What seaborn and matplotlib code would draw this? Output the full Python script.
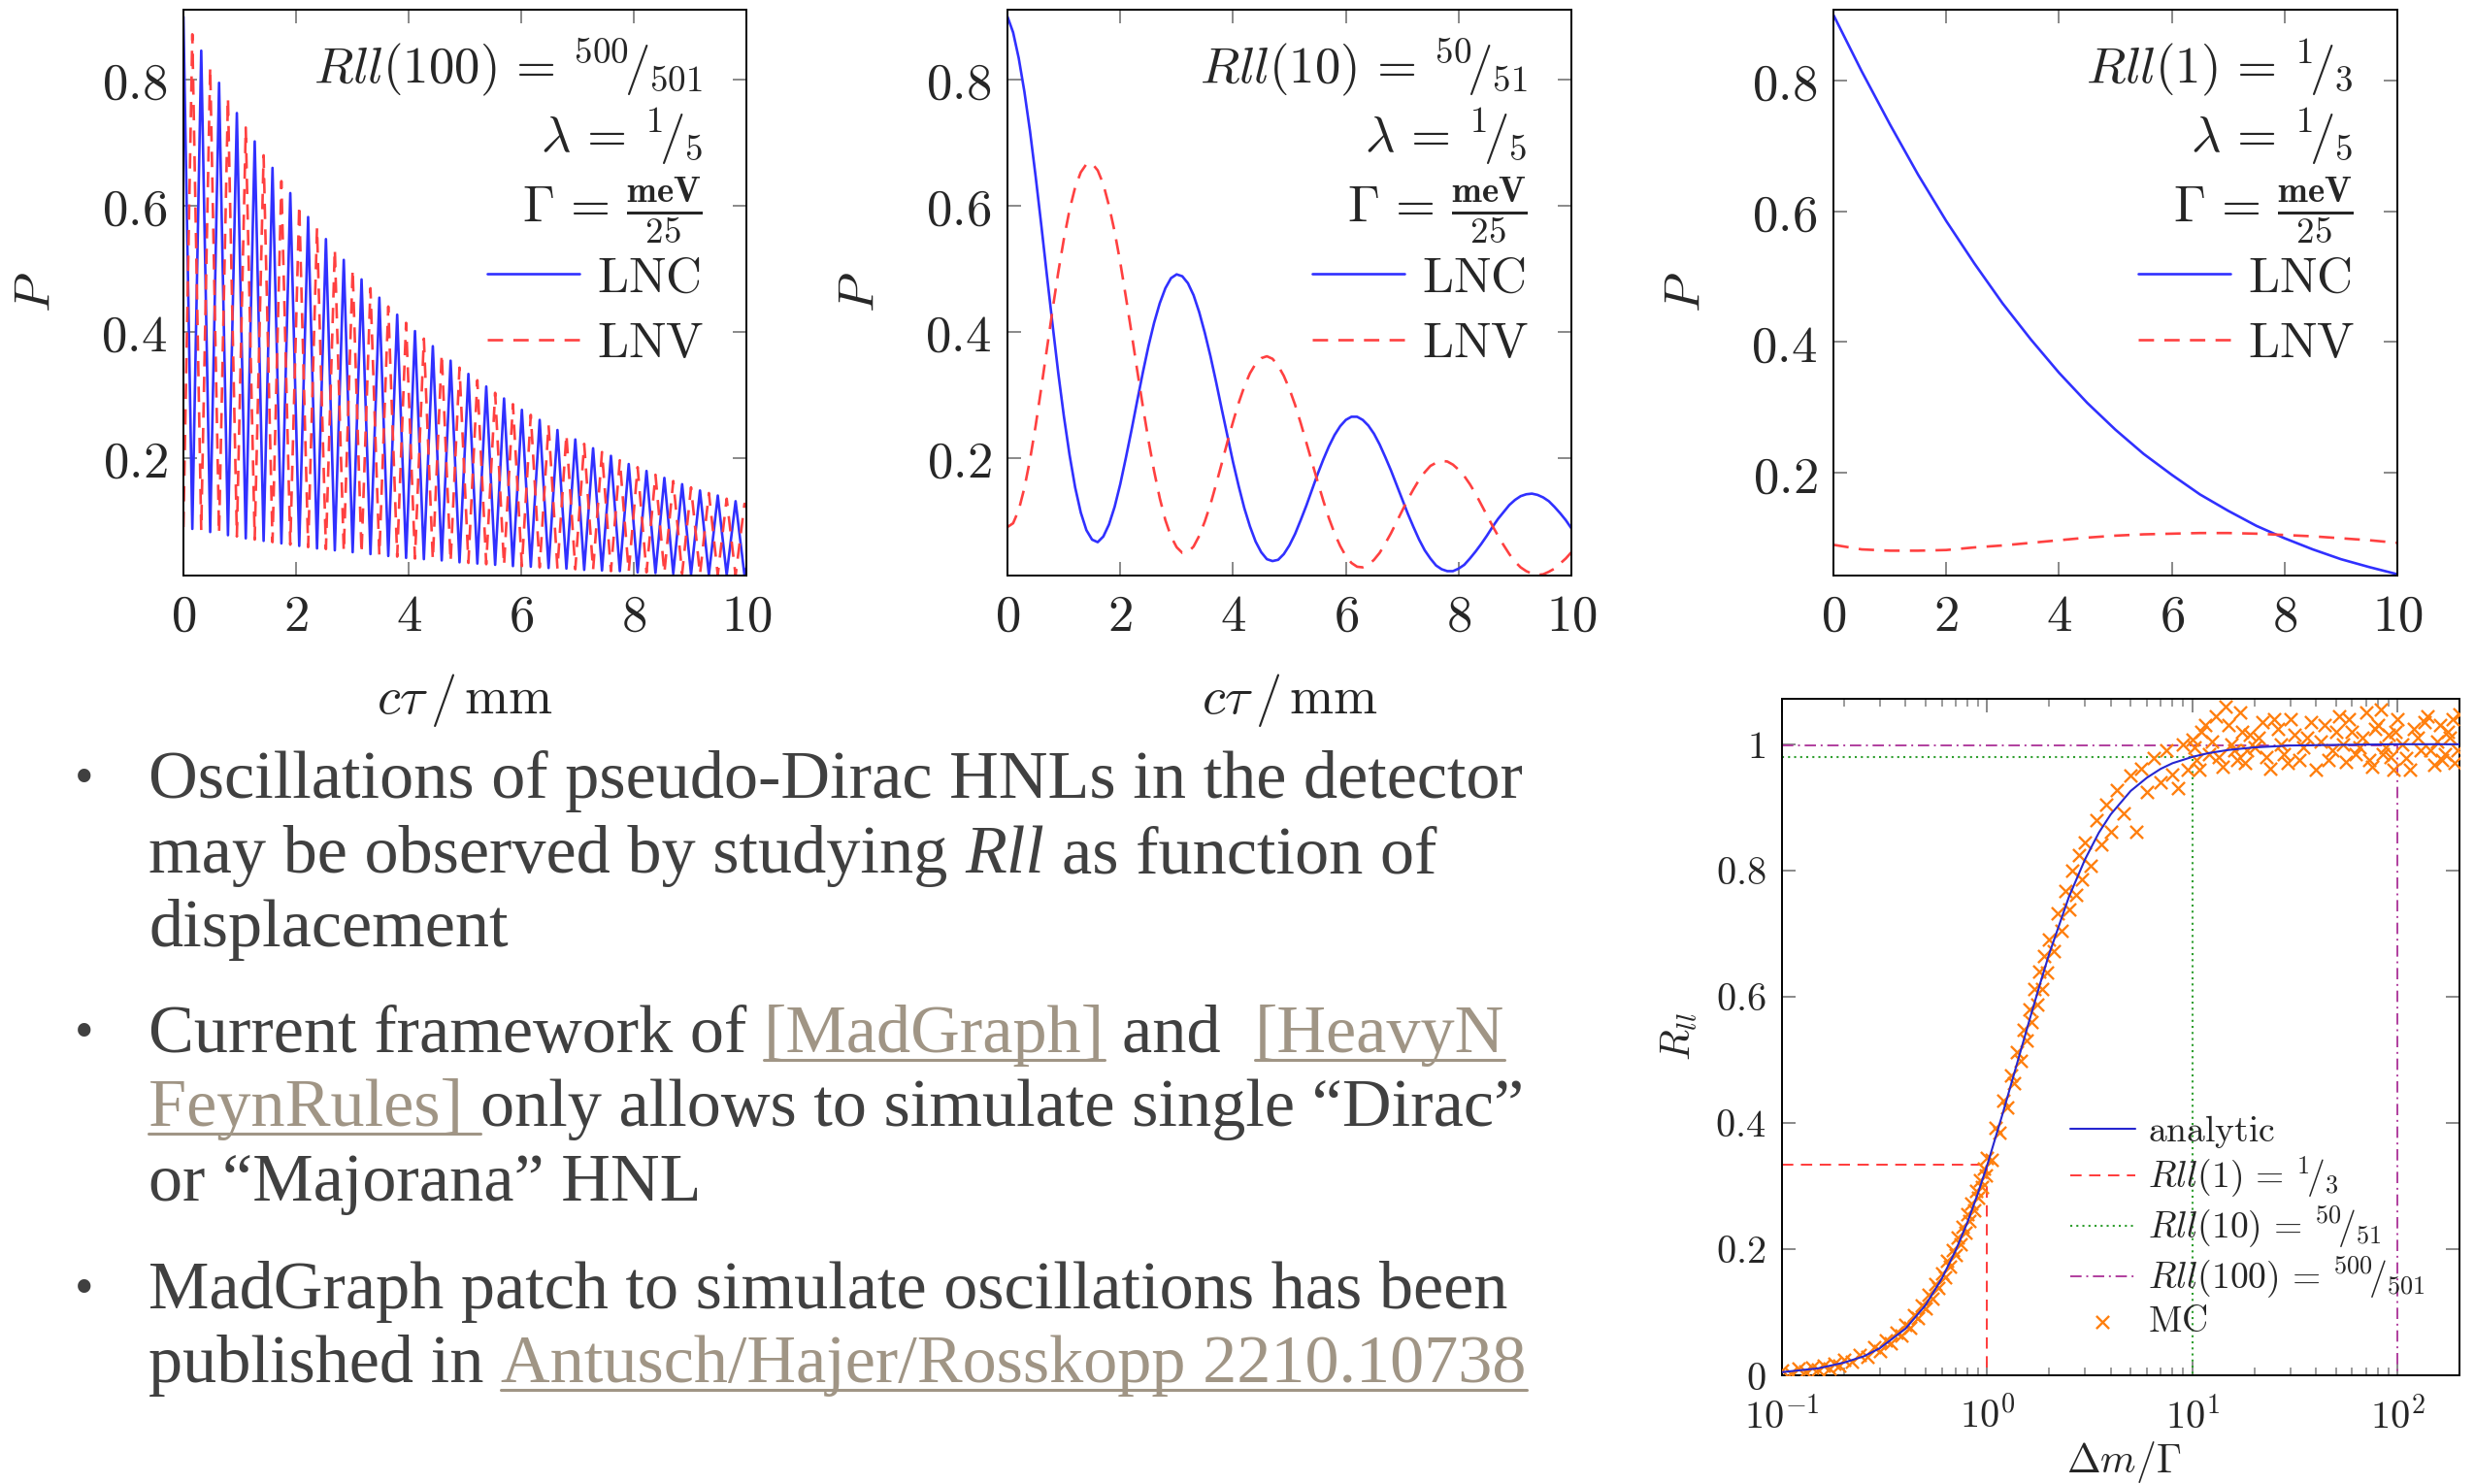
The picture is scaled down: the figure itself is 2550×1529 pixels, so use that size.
import matplotlib
matplotlib.use("Agg")
import matplotlib.pyplot as plt
import seaborn as sns
from matplotlib.font_manager import FontProperties
from matplotlib.lines import Line2D
from matplotlib.ticker import LogLocator, NullFormatter

# ---------------- data ----------------
# panel 1: R_ll(100) = 500/501  (peaks / troughs of the fast oscillation)
p1_x = [0.000, 0.158, 0.316, 0.475, 0.633, 0.791, 0.949, 1.107, 1.266, 1.424,
        1.582, 1.740, 1.898, 2.057, 2.215, 2.373, 2.531, 2.689, 2.848, 3.006,
        3.164, 3.322, 3.480, 3.639, 3.797, 3.955, 4.113, 4.271, 4.430, 4.588,
        4.746, 4.904, 5.062, 5.221, 5.379, 5.537, 5.695, 5.853, 6.012, 6.170,
        6.328, 6.486, 6.644, 6.803, 6.961, 7.119, 7.277, 7.435, 7.594, 7.752,
        7.910, 8.068, 8.226, 8.385, 8.543, 8.701, 8.859, 9.017, 9.176, 9.334,
        9.492, 9.650, 9.808, 9.967, 10.000]
p1_lnc = [0.900, 0.087, 0.846, 0.082, 0.795, 0.077, 0.747, 0.072, 0.702, 0.068,
          0.660, 0.064, 0.620, 0.060, 0.582, 0.056, 0.547, 0.053, 0.514, 0.050,
          0.483, 0.047, 0.454, 0.044, 0.427, 0.041, 0.401, 0.039, 0.377, 0.037,
          0.354, 0.034, 0.333, 0.032, 0.313, 0.030, 0.294, 0.028, 0.276, 0.027,
          0.260, 0.025, 0.244, 0.024, 0.229, 0.022, 0.215, 0.021, 0.203, 0.020,
          0.190, 0.018, 0.179, 0.017, 0.168, 0.016, 0.158, 0.015, 0.148, 0.014,
          0.140, 0.014, 0.131, 0.013, 0.025]
p1_lnv = [0.090, 0.872, 0.085, 0.820, 0.080, 0.771, 0.075, 0.724, 0.070, 0.680,
          0.066, 0.639, 0.062, 0.601, 0.058, 0.565, 0.055, 0.531, 0.051, 0.499,
          0.048, 0.469, 0.045, 0.440, 0.043, 0.414, 0.040, 0.389, 0.038, 0.365,
          0.035, 0.343, 0.033, 0.323, 0.031, 0.303, 0.029, 0.285, 0.028, 0.268,
          0.026, 0.252, 0.024, 0.237, 0.023, 0.222, 0.022, 0.209, 0.020, 0.196,
          0.019, 0.185, 0.018, 0.173, 0.017, 0.163, 0.016, 0.153, 0.015, 0.144,
          0.014, 0.135, 0.013, 0.127, 0.122]

# panel 2: R_ll(10) = 50/51
p2_x = [0.0, 0.1, 0.2, 0.3, 0.4, 0.5, 0.6, 0.7, 0.8, 0.9,
        1.0, 1.1, 1.2, 1.3, 1.4, 1.5, 1.6, 1.7, 1.8, 1.9,
        2.0, 2.1, 2.2, 2.3, 2.4, 2.5, 2.6, 2.7, 2.8, 2.9,
        3.0, 3.1, 3.2, 3.3, 3.4, 3.5, 3.6, 3.7, 3.8, 3.9,
        4.0, 4.1, 4.2, 4.3, 4.4, 4.5, 4.6, 4.7, 4.8, 4.9,
        5.0, 5.1, 5.2, 5.3, 5.4, 5.5, 5.6, 5.7, 5.8, 5.9,
        6.0, 6.1, 6.2, 6.3, 6.4, 6.5, 6.6, 6.7, 6.8, 6.9,
        7.0, 7.1, 7.2, 7.3, 7.4, 7.5, 7.6, 7.7, 7.8, 7.9,
        8.0, 8.1, 8.2, 8.3, 8.4, 8.5, 8.6, 8.7, 8.8, 8.9,
        9.0, 9.1, 9.2, 9.3, 9.4, 9.5, 9.6, 9.7, 9.8, 9.9, 10.0]
p2_lnc = [0.900, 0.875, 0.834, 0.781, 0.718, 0.646, 0.569, 0.489, 0.411, 0.335,
          0.266, 0.205, 0.153, 0.113, 0.085, 0.070, 0.066, 0.075, 0.094, 0.122,
          0.158, 0.200, 0.244, 0.290, 0.335, 0.377, 0.414, 0.445, 0.469, 0.485,
          0.491, 0.488, 0.477, 0.458, 0.431, 0.398, 0.361, 0.320, 0.277, 0.235,
          0.193, 0.155, 0.120, 0.091, 0.067, 0.050, 0.039, 0.036, 0.038, 0.047,
          0.061, 0.079, 0.101, 0.124, 0.149, 0.174, 0.197, 0.218, 0.236, 0.250,
          0.260, 0.265, 0.265, 0.260, 0.251, 0.238, 0.221, 0.201, 0.180, 0.157,
          0.134, 0.111, 0.090, 0.070, 0.053, 0.040, 0.029, 0.023, 0.020, 0.020,
          0.024, 0.030, 0.040, 0.051, 0.063, 0.076, 0.090, 0.103, 0.114, 0.125,
          0.133, 0.139, 0.142, 0.143, 0.141, 0.137, 0.131, 0.122, 0.112, 0.101,
          0.088]
p2_lnv = [0.090, 0.096, 0.117, 0.152, 0.197, 0.251, 0.311, 0.373, 0.435, 0.494,
          0.547, 0.593, 0.629, 0.653, 0.666, 0.667, 0.656, 0.634, 0.600, 0.559,
          0.510, 0.455, 0.398, 0.339, 0.282, 0.228, 0.179, 0.136, 0.101, 0.075,
          0.058, 0.049, 0.050, 0.059, 0.076, 0.099, 0.126, 0.158, 0.191, 0.225,
          0.257, 0.287, 0.313, 0.334, 0.349, 0.358, 0.361, 0.357, 0.346, 0.330,
          0.309, 0.284, 0.255, 0.224, 0.193, 0.162, 0.132, 0.104, 0.080, 0.060,
          0.044, 0.033, 0.027, 0.026, 0.030, 0.038, 0.049, 0.064, 0.080, 0.098,
          0.116, 0.134, 0.150, 0.165, 0.177, 0.187, 0.192, 0.195, 0.194, 0.189,
          0.181, 0.171, 0.158, 0.143, 0.126, 0.109, 0.092, 0.076, 0.061, 0.047,
          0.035, 0.026, 0.020, 0.016, 0.014, 0.015, 0.019, 0.024, 0.032, 0.040,
          0.050]

# panel 3: R_ll(1) = 1/3
p3_x = [0.0, 0.5, 1.0, 1.5, 2.0, 2.5, 3.0, 3.5, 4.0, 4.5, 5.0, 5.5, 6.0, 6.5,
        7.0, 7.5, 8.0, 8.5, 9.0, 9.5, 10.0]
p3_lnc = [0.900, 0.814, 0.733, 0.656, 0.585, 0.520, 0.459, 0.404, 0.353, 0.307,
          0.266, 0.229, 0.197, 0.167, 0.142, 0.119, 0.100, 0.083, 0.068, 0.056,
          0.045]
p3_lnv = [0.090, 0.083, 0.081, 0.081, 0.082, 0.086, 0.089, 0.093, 0.097, 0.101,
          0.104, 0.106, 0.107, 0.108, 0.108, 0.107, 0.105, 0.103, 0.100, 0.097,
          0.093]

top_ticks_x = [0, 2, 4, 6, 8, 10]
top_ticks_y = [0.2, 0.4, 0.6, 0.8]
top_ylims = [(0.013, 0.911), (0.013, 0.911), (0.043, 0.908)]
top_titles = [r"$Rll(100)\,=\,{}^{500}\!/_{501}$",
              r"$Rll(10)\,=\,{}^{50}\!/_{51}$",
              r"$Rll(1)\,=\,{}^{1}\!/_{3}$"]
lambda_txt = r"$\lambda\,=\,{}^{1}\!/_{5}$"
gamma_txt = r"$\Gamma\,=\,\frac{\mathbf{meV}}{\mathbf{25}}$"

# panel 4: R_ll versus delta m / Gamma
an_x = [0.1, 0.15, 0.2, 0.25, 0.3, 0.4, 0.5, 0.6, 0.7, 0.8, 0.9, 1.0, 1.2, 1.4,
        1.6, 1.8, 2.0, 2.5, 3.0, 3.5, 4.0, 5.0, 6.0, 7.0, 8.0, 10, 12, 15, 20,
        30, 50, 100, 200]
an_y = [0.005, 0.011, 0.020, 0.030, 0.043, 0.074, 0.111, 0.153, 0.197, 0.242,
        0.288, 0.333, 0.419, 0.495, 0.561, 0.618, 0.667, 0.758, 0.818, 0.860,
        0.889, 0.926, 0.947, 0.961, 0.970, 0.980, 0.986, 0.991, 0.995, 0.998,
        0.999, 1.000, 1.000]
mc_x = [0.10, 0.11, 0.12, 0.13, 0.14, 0.15, 0.16, 0.17, 0.18, 0.19, 0.20, 0.22,
        0.24, 0.26, 0.28, 0.30, 0.32, 0.34, 0.36, 0.38, 0.40, 0.42, 0.44, 0.46,
        0.48, 0.50,
        0.52, 0.54, 0.56, 0.58, 0.60, 0.62, 0.64, 0.66, 0.68, 0.70, 0.72, 0.74,
        0.76, 0.78, 0.80, 0.82, 0.84, 0.86, 0.88, 0.90, 0.92, 0.94, 0.96, 0.98,
        1.00,
        1.05, 1.10, 1.15, 1.20, 1.25, 1.30, 1.35, 1.40, 1.45, 1.50, 1.55, 1.60,
        1.65, 1.70, 1.75, 1.80, 1.85, 1.90, 1.95, 2.00, 2.10, 2.20, 2.30, 2.40,
        2.50, 2.60, 2.70, 2.80, 2.90, 3.00,
        3.2, 3.4, 3.6, 3.8, 4.0, 4.3, 4.6, 5.0, 5.3, 5.6, 6.0, 6.5, 7.0, 7.5,
        8.0, 8.5, 9.0, 9.5, 10.0,
        10.5, 11, 12, 13, 14, 15, 16, 17, 18, 19, 20, 22, 24, 26, 28, 30, 33,
        36, 40, 44, 48, 52, 56, 60, 65, 70, 75, 80, 85, 90, 95, 100, 110, 120,
        130, 140, 150, 160, 170, 180, 190, 200,
        10.2, 10.8, 11.5, 12.5, 13.5, 14.5, 15.5, 16.5, 17.5, 18.5, 21, 23, 25,
        27, 29, 31.5, 34.5, 38, 42, 46, 50, 54, 58, 62.5, 67.5, 72.5, 77.5,
        82.5, 87.5, 92.5, 97.5, 105, 115, 125, 135, 145, 155, 165, 175, 185, 195]
mc_y = [0.008, 0.003, 0.010, 0.006, 0.013, 0.009, 0.016, 0.011, 0.019, 0.015,
        0.024, 0.021, 0.033, 0.029, 0.044, 0.039, 0.055, 0.050, 0.068, 0.063,
        0.080, 0.076, 0.095, 0.091, 0.110, 0.106,
        0.127, 0.121, 0.145, 0.139, 0.162, 0.155, 0.181, 0.172, 0.199, 0.190,
        0.219, 0.208, 0.236, 0.226, 0.255, 0.244, 0.272, 0.262, 0.292, 0.281,
        0.309, 0.298, 0.327, 0.317, 0.345,
        0.342, 0.392, 0.385, 0.436, 0.425, 0.475, 0.463, 0.512, 0.498, 0.548,
        0.531, 0.580, 0.560, 0.612, 0.588, 0.640, 0.612, 0.665, 0.638, 0.690,
        0.672, 0.732, 0.705, 0.768, 0.738, 0.800, 0.762, 0.825, 0.786, 0.845,
        0.808, 0.880, 0.842, 0.905, 0.862, 0.928, 0.890, 0.950, 0.862, 0.962,
        0.925, 0.978, 0.940, 0.990, 0.952, 0.930, 1.000, 0.960, 1.008,
        0.975, 1.020, 0.985, 1.045, 0.965, 1.030, 0.990, 1.050, 0.970, 1.015,
        0.995, 1.035, 0.962, 1.025, 0.985, 1.040, 0.975, 1.010, 0.960, 1.030,
        0.990, 1.045, 0.972, 1.020, 0.995, 1.050, 0.965, 1.030, 0.985, 1.015,
        0.960, 1.040, 0.978, 1.025, 0.990, 1.045, 0.968, 1.030, 0.985, 1.010,
        0.970, 1.048,
        0.995, 0.960, 1.030, 1.005, 0.980, 1.060, 1.000, 0.975, 1.020, 0.990,
        1.010, 0.980, 1.040, 1.000, 0.970, 1.015, 0.995, 1.035, 1.005, 0.975,
        1.020, 1.000, 1.040, 0.985, 1.010, 0.975, 1.025, 1.055, 0.995, 0.980,
        1.020, 1.000, 0.960, 1.010, 1.035, 0.990, 1.005, 0.975, 1.020, 1.040,
        0.990]
ref1_x, ref1_y = [0.1, 1, 1], [1 / 3, 1 / 3, 0]
ref2_x, ref2_y = [0.1, 10, 10], [50 / 51, 50 / 51, 0]
ref3_x, ref3_y = [0.1, 100, 100], [500 / 501, 500 / 501, 0]
p4_xticks = [0.1, 1, 10, 100]
p4_xticklabels = [r"$10^{-1}$", r"$10^{0}$", r"$10^{1}$", r"$10^{2}$"]
p4_yticks = [0, 0.2, 0.4, 0.6, 0.8, 1.0]
p4_yticklabels = [r"$0$", r"$0.2$", r"$0.4$", r"$0.6$", r"$0.8$", r"$1$"]

# bullet text
bullets = [
    [[("Oscillations of pseudo-Dirac HNLs in the detector", "n")],
     [("may be observed by studying ", "n"), ("Rll", "i"), (" as function of", "n")],
     [("displacement", "n")]],
    [[("Current framework of ", "n"), ("[MadGraph]", "l"), (" and  ", "n"), ("[HeavyN", "l")],
     [("FeynRules] ", "l"), ("only allows to simulate single \u201cDirac\u201d", "n")],
     [("or \u201cMajorana\u201d HNL", "n")]],
    [[("MadGraph patch to simulate oscillations has been", "n")],
     [("published in ", "n"), ("Antusch/Hajer/Rosskopp 2210.10738", "l")]],
]

# ---------------- style ----------------
BLUE = "#3030FF"
RED = "#FF4040"
TXT = "#404040"
LINK = "#A09585"

sns.set_theme(style="white")
plt.rcParams.update({
    "mathtext.fontset": "cm",
    "font.family": ["DejaVu Serif"],
    "axes.unicode_minus": False,
})

W, H = 2550, 1529
fig = plt.figure(figsize=(W / 100, H / 100), dpi=100)
fig.patch.set_facecolor("white")


def px_axes(l, t, r, b):
    return fig.add_axes([l / W, 1 - b / H, (r - l) / W, (b - t) / H])


def frame(ax):
    for s in ax.spines.values():
        s.set_visible(True)
        s.set_color("black")
        s.set_linewidth(1.4)


top_boxes = [(189, 10, 769, 593), (1038, 10, 1619, 593), (1889, 10, 2470, 593)]
top_data = [(p1_x, p1_lnc, p1_lnv), (p2_x, p2_lnc, p2_lnv), (p3_x, p3_lnc, p3_lnv)]

for i, (box, (xx, lnc, lnv)) in enumerate(zip(top_boxes, top_data)):
    ax = px_axes(*box)
    frame(ax)
    sns.lineplot(x=xx, y=lnc, ax=ax, color=BLUE, linewidth=1.9,
                 estimator=None, label=r"$\mathrm{LNC}$")
    sns.lineplot(x=xx, y=lnv, ax=ax, color=RED, linewidth=1.9,
                 estimator=None, label=r"$\mathrm{LNV}$")
    ax.lines[-1].set_linestyle((0, (6, 4)))
    ax.set_xlim(0, 10)
    ax.set_ylim(*top_ylims[i])
    ax.set_xticks(top_ticks_x, [f"${t}$" for t in top_ticks_x])
    ax.set_yticks(top_ticks_y, [f"${t}$" for t in top_ticks_y])
    ax.tick_params(direction="in", top=True, right=True, bottom=True, left=True,
                   length=10, width=1.3, color="#808080", labelsize=38, pad=12)
    ax.set_ylabel(r"$P$", fontsize=38)
    ax.yaxis.set_label_coords(-0.262, 0.5)
    ax.yaxis.label.set_va("center")
    if i < 2:
        ax.set_xlabel(r"$c\tau\,/\,\mathrm{mm}$", fontsize=39)
        ax.xaxis.set_label_coords(0.5, -0.22)
        ax.xaxis.label.set_va("center")
    else:
        ax.set_xlabel("")
    ax.text(0.922, 0.897, top_titles[i], transform=ax.transAxes, ha="right",
            va="center", fontsize=38)
    ax.text(0.922, 0.776, lambda_txt, transform=ax.transAxes, ha="right",
            va="center", fontsize=38)
    ax.text(0.922, 0.645, gamma_txt, transform=ax.transAxes, ha="right",
            va="center", fontsize=38)
    ax.legend(loc="upper right", bbox_to_anchor=(0.924, 0.568), frameon=False,
              fontsize=37, handlelength=1.85, handletextpad=0.35,
              labelspacing=0.36, borderpad=0, borderaxespad=0)

# ---- panel 4 ----
ax4 = px_axes(1836, 720, 2534, 1417)
frame(ax4)
ax4.set_xscale("log")
sns.lineplot(x=an_x, y=an_y, ax=ax4, color="#2626D0", linewidth=1.5,
             estimator=None, label=r"$\mathrm{analytic}$", zorder=5)
ax4.plot(ref1_x, ref1_y, color="#FF3A3A", linewidth=1.4, linestyle=(0, (6, 4)),
         label=r"$Rll(1)\,=\,{}^{1}\!/_{3}$", zorder=2)
ax4.plot(ref2_x, ref2_y, color="#2E9E2E", linewidth=1.5, linestyle=(0, (1, 2)),
         label=r"$Rll(10)\,=\,{}^{50}\!/_{51}$", zorder=2)
ax4.plot(ref3_x, ref3_y, color="#B03E9E", linewidth=1.4,
         linestyle=(0, (6, 2.5, 1, 2.5)),
         label=r"$Rll(100)\,=\,{}^{500}\!/_{501}$", zorder=2)
sns.scatterplot(x=mc_x, y=mc_y, ax=ax4, marker="x", color="#FF7F0E", s=90,
                linewidth=1.7, label=r"$\mathrm{MC}$", zorder=3)
ax4.set_xlim(0.1, 200)
ax4.set_ylim(0, 1.072)
ax4.set_xticks(p4_xticks, p4_xticklabels)
ax4.xaxis.set_minor_locator(LogLocator(base=10, subs=range(2, 10), numticks=20))
ax4.xaxis.set_minor_formatter(NullFormatter())
ax4.set_yticks(p4_yticks, p4_yticklabels)
ax4.tick_params(which="major", direction="in", top=True, right=True, bottom=True,
                left=True, length=10, width=1.3, color="#808080", labelsize=29)
ax4.tick_params(axis="x", which="major", pad=16)
ax4.tick_params(axis="y", which="major", pad=12)
ax4.tick_params(which="minor", direction="in", top=True, bottom=True,
                length=6, width=1.1, color="#808080")
ax4.set_ylabel(r"$R_{ll}$", fontsize=30)
ax4.yaxis.set_label_coords(-0.152, 0.5)
ax4.yaxis.label.set_va("center")
ax4.set_xlabel(r"$\Delta m/\Gamma$", fontsize=30)
ax4.xaxis.set_label_coords(0.504, -0.128)
ax4.xaxis.label.set_va("center")
h, l = ax4.get_legend_handles_labels()
ax4.legend(h, l, loc="upper left", bbox_to_anchor=(0.425, 0.387), frameon=False,
           fontsize=27, handlelength=1.8, handletextpad=0.33, labelspacing=0.12,
           borderpad=0, borderaxespad=0, scatterpoints=1)

# ---------------- bullet text ----------------
renderer = fig.canvas.get_renderer()


def fprops(kind, size):
    return FontProperties(family="Liberation Serif", size=size,
                          style="italic" if kind == "i" else "normal")


def adv(s, kind, size):
    fp = fprops(kind, size)
    w1, _, _ = renderer.get_text_width_height_descent("H" + s + "H", fp, ismath=False)
    w0, _, _ = renderer.get_text_width_height_descent("HH", fp, ismath=False)
    return w1 - w0


first = bullets[0][0][0][0]
fs = 40 * 1413 / adv(first, "n", 40)

X0 = 153
baselines = [[822, 899, 975], [1084, 1160, 1237], [1348, 1424]]
for blines, bases in zip(bullets, baselines):
    fig.text(87 / W, 1 - (bases[0] - 18) / H, "\u2022", ha="center", va="center",
             fontsize=40, color=TXT, family="Liberation Serif")
    for segs, yb in zip(blines, bases):
        x = X0
        for s, kind in segs:
            stripped = s.lstrip(" ")
            lead = s[: len(s) - len(stripped)]
            xd = x + (adv(lead, kind, fs) if lead else 0)
            fig.text(xd / W, 1 - yb / H, stripped, ha="left", va="baseline",
                     fontsize=fs, color=LINK if kind == "l" else TXT,
                     family="Liberation Serif",
                     style="italic" if kind == "i" else "normal")
            w = adv(s, kind, fs)
            if kind == "l":
                fig.add_artist(Line2D([x / W, (x + w) / W],
                                      [1 - (yb + 8) / H, 1 - (yb + 8) / H],
                                      transform=fig.transFigure, color=LINK,
                                      linewidth=2.2))
            x += w

fig.savefig("out.png", dpi=100, facecolor="white")
